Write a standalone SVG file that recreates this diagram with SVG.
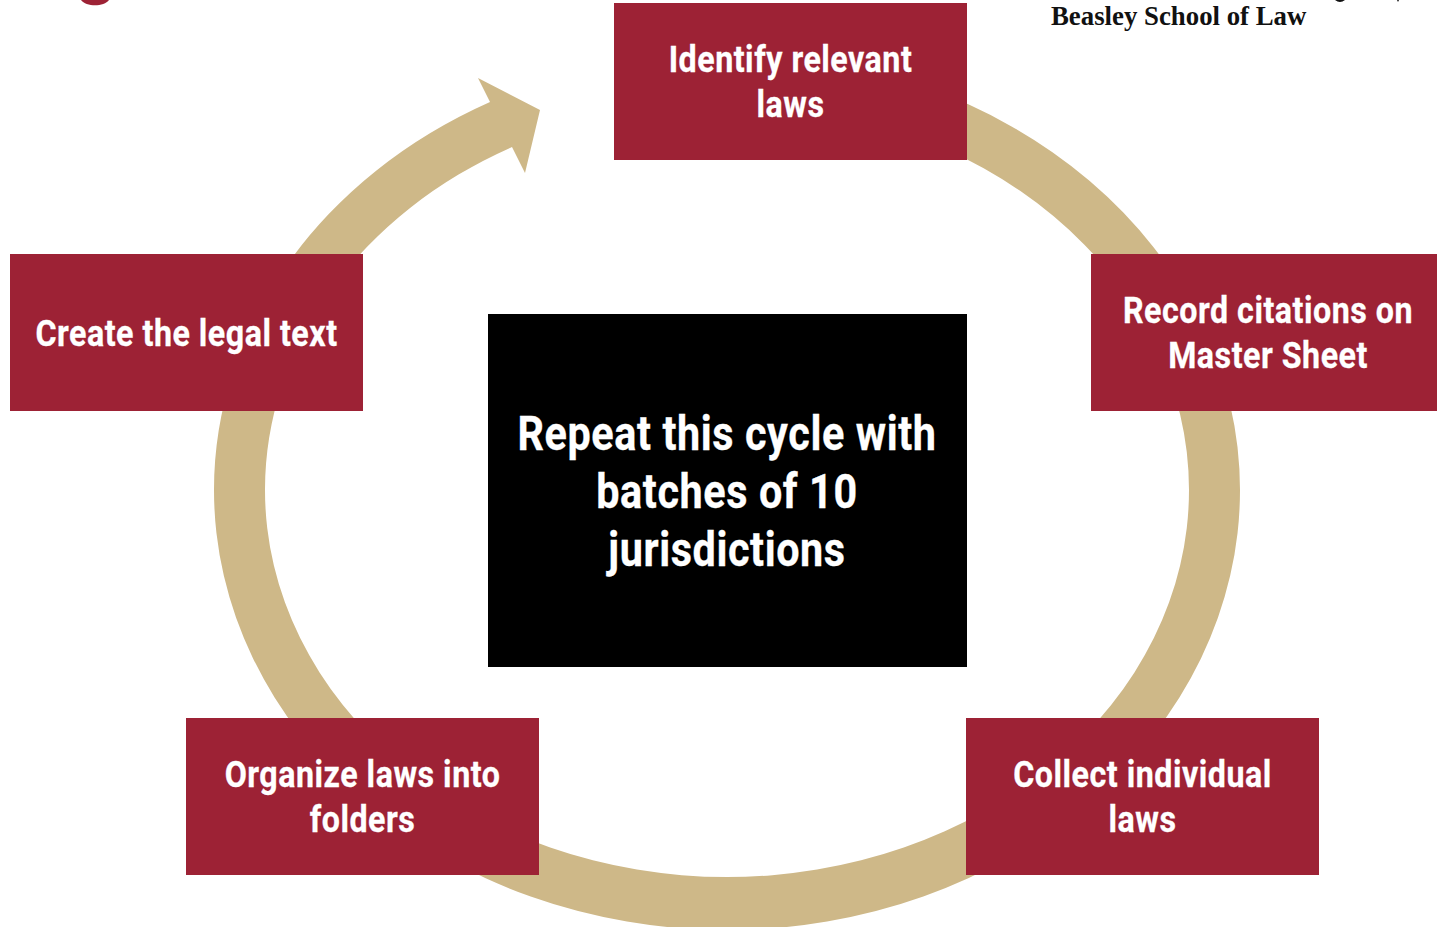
<svg xmlns="http://www.w3.org/2000/svg" width="1437" height="927" viewBox="0 0 1437 927">
<style>
.b{fill:#9d2235}
.t{font-family:Roboto,"Liberation Sans",sans-serif;font-weight:700;font-size:37px;fill:#fff;stroke:#fff;stroke-width:.3px;text-anchor:middle;letter-spacing:.6px}
.c{font-size:47.5px;letter-spacing:.7px}
</style>
<rect width="1437" height="927" fill="#fff"/>
<path d="M81 0C86 7 104 7 109 0Z" fill="#9d2235"/>
<path d="M1335 0Q1340 4 1345 0ZM1397 0L1399 0L1398 2Z" fill="#111"/>
<text x="1051" y="25" font-family="Liberation Serif,serif" font-size="26.8" font-weight="700" fill="#111">Beasley School of Law</text>
<g id="connectors">
<path d="M727 53A513 437 0 0 1 1240 490A513 440 0 0 1 727 930A513 440 0 0 1 214 490A513 437 0 0 1 490 102L478 78L540 110L525 173L512 147A462 387 0 0 0 265 490A462 387 0 0 0 727 877A462 387 0 0 0 1189 490A462 387 0 0 0 727 103Z" fill="#ceb888"/>
</g>
<g id="n1"><rect class="b" x="614" y="3" width="353" height="157"/><g transform="translate(790.5 0) scale(.87 1)"><text class="t" y="72">Identify relevant</text><text class="t" y="117">laws</text></g></g>
<g id="n2"><rect class="b" x="1091" y="254" width="346" height="157"/><g transform="translate(1268 0) scale(.87 1)"><text class="t" y="323">Record citations on</text><text class="t" y="368">Master Sheet</text></g></g>
<g id="n3"><rect class="b" x="966" y="718" width="353" height="157"/><g transform="translate(1142.5 0) scale(.87 1)"><text class="t" y="787">Collect individual</text><text class="t" y="832">laws</text></g></g>
<g id="n4"><rect class="b" x="186" y="718" width="353" height="157"/><g transform="translate(362.5 0) scale(.87 1)"><text class="t" y="787">Organize laws into</text><text class="t" y="832">folders</text></g></g>
<g id="n5"><rect class="b" x="10" y="254" width="353" height="157"/><g transform="translate(186.5 0) scale(.87 1)"><text class="t" y="346">Create the legal text</text></g></g>
<g id="center"><rect x="488" y="314" width="479" height="353" fill="#000"/><g transform="translate(727 0) scale(.87 1)"><text class="t c" y="450">Repeat this cycle with</text><text class="t c" y="508">batches of 10</text><text class="t c" y="566">jurisdictions</text></g></g>
</svg>
